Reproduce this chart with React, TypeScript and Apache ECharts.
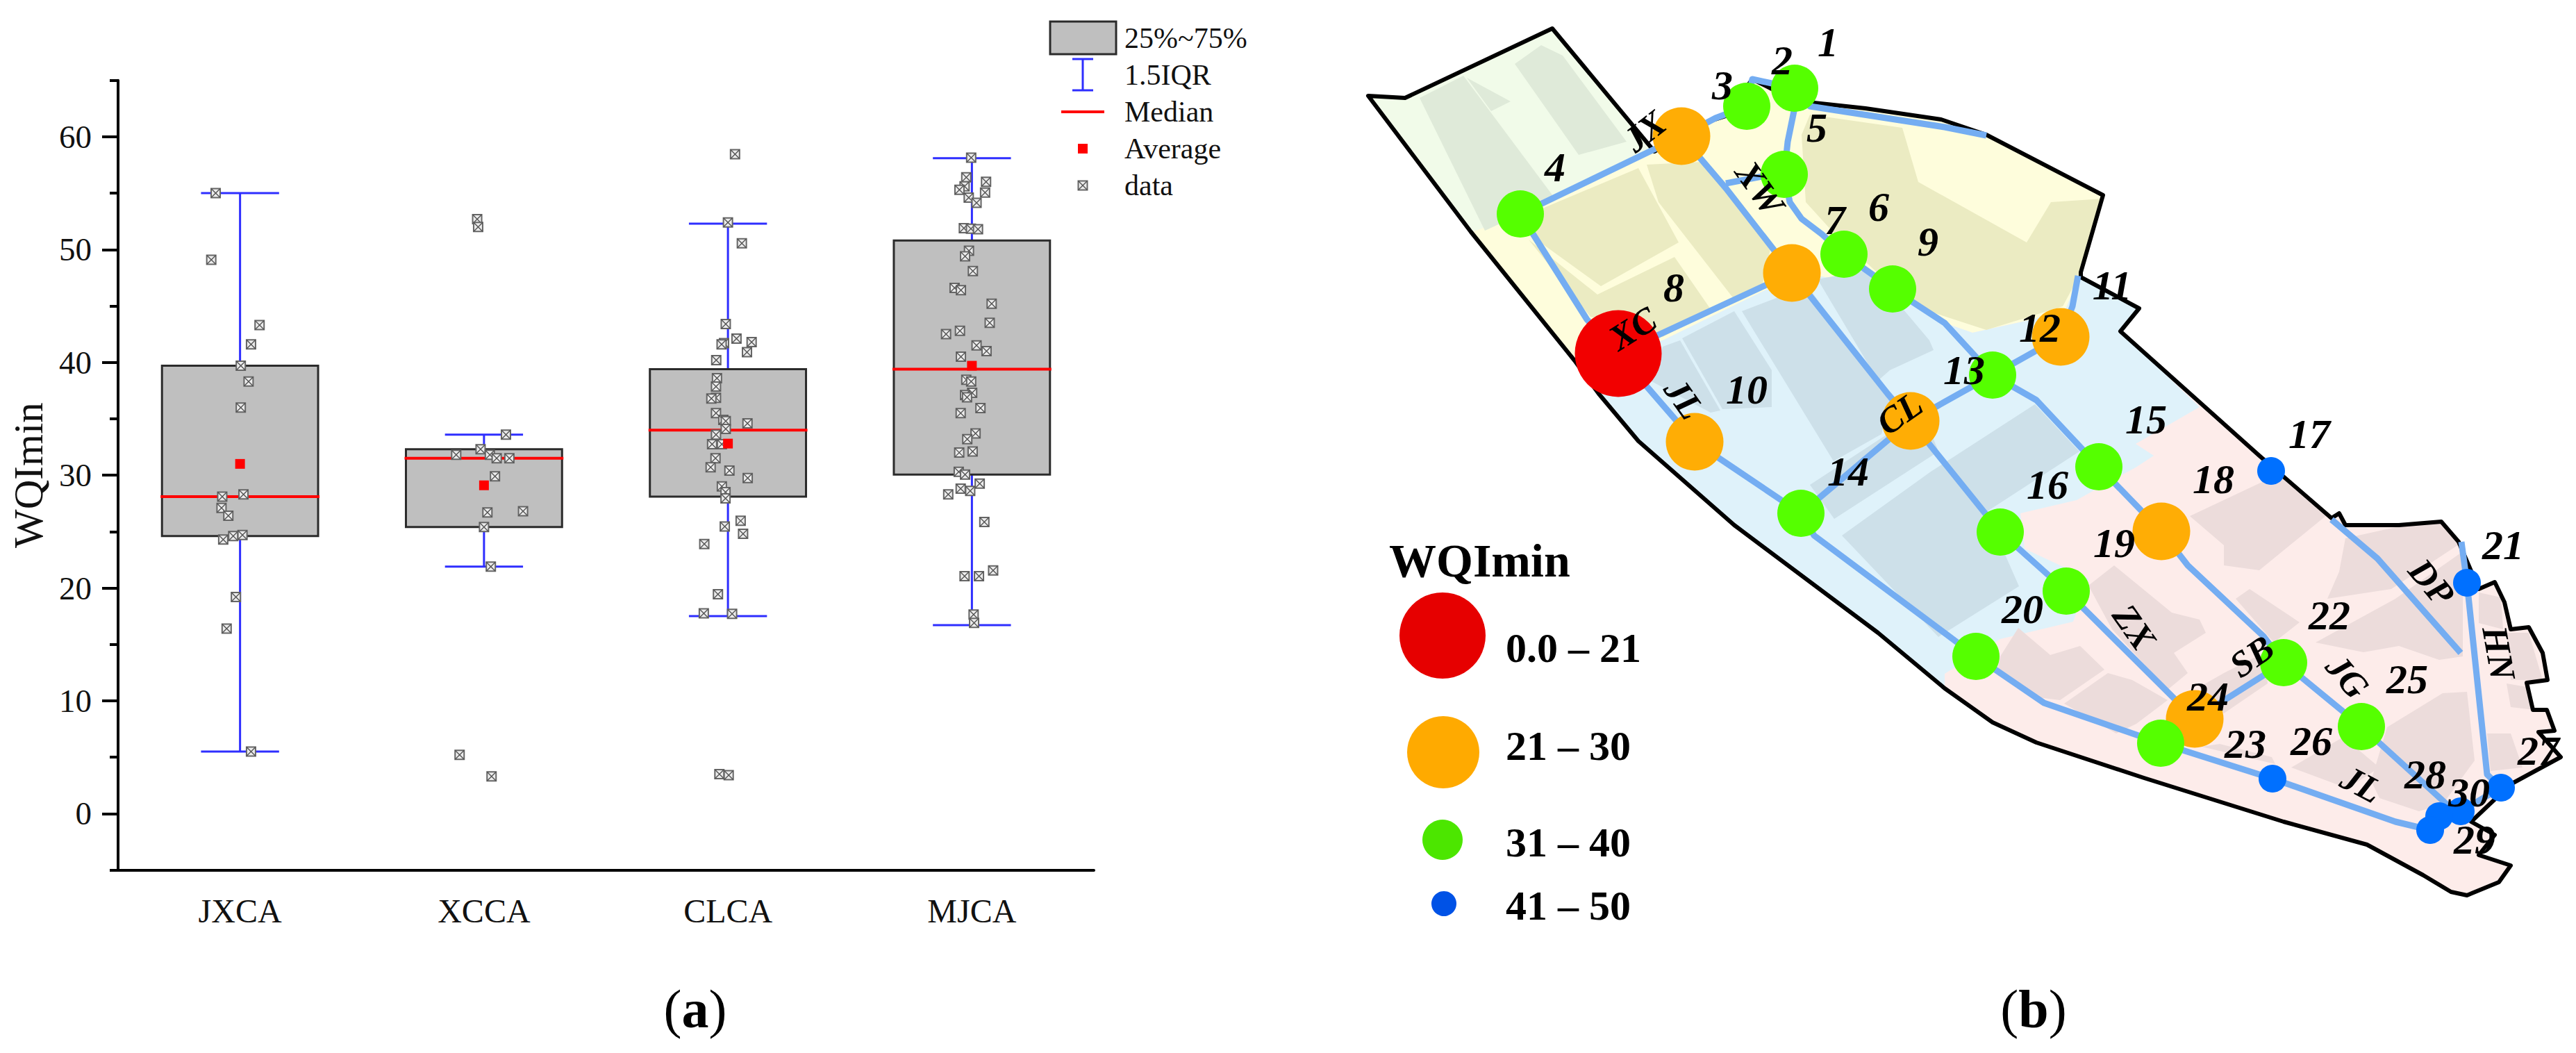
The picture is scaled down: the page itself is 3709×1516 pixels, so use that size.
import React, { useEffect, useRef } from "react";
import * as echarts from "echarts";

const SERIF = "'Liberation Serif', serif";

// ---------- panel (a) ----------
const categories = ["JXCA", "XCCA", "CLCA", "MJCA"];
const q1 = [24.6, 25.4, 28.1, 30.05];
const q3 = [39.7, 32.3, 39.4, 50.8];
const medians = [28.1, 31.5, 34.0, 39.4];
const whiskerLow = [5.5, 21.9, 17.5, 16.7];
const whiskerHigh = [55.0, 33.6, 52.3, 58.1];
const means = [31.0, 29.1, 32.8, 39.7];
const yLabelValues = [0, 10, 20, 30, 40, 50, 60];
const yMinorValues = [-5, 5, 15, 25, 35, 45, 55, 65];

// [horizontal jitter in category widths, WQImin]
const jxcaPoints = [[-.10, 55], [-.118, 49.1], [.08, 43.3], [.045, 41.6], [.003, 39.7], [.035, 38.3], [.003, 36], [.014, 28.3], [-.073, 28.1], [-.076, 27.1], [-.048, 26.4], [-.069, 24.3], [-.028, 24.6], [.01, 24.7], [-.017, 19.2], [-.055, 16.4], [.045, 5.5]];
const xccaPoints = [[-.028, 52.7], [-.024, 52], [.09, 33.6], [-.014, 32.3], [-.114, 31.8], [.024, 31.8], [.052, 31.5], [.104, 31.5], [.045, 29.9], [.014, 26.7], [.16, 26.8], [0, 25.4], [.028, 21.9], [-.10, 5.2], [.031, 3.3]];
const clcaPoints = [[.029, 58.45], [0, 52.4], [.057, 50.55], [-.009, 43.4], [.035, 42.1], [.097, 41.8], [-.016, 41.7], [-.026, 41.6], [.078, 40.9], [-.048, 40.2], [-.045, 38.6], [-.049, 37.85], [-.049, 36.85], [-.068, 36.8], [-.049, 35.5], [-.019, 34.9], [.08, 34.6], [-.009, 34.8], [-.009, 34.1], [-.049, 33.6], [-.065, 32.75], [-.025, 32.75], [-.051, 31.5], [-.071, 30.7], [.006, 30.4], [.081, 29.75], [-.025, 29], [-.01, 28.5], [-.01, 27.95], [.052, 25.95], [-.013, 25.45], [.062, 24.8], [-.097, 23.9], [-.041, 19.45], [-.099, 17.75], [.017, 17.7], [-.035, 3.5], [.003, 3.4]];
const mjcaPoints = [[-.003, 58.15], [-.023, 56.4], [.058, 56], [-.03, 55.6], [-.051, 55.3], [.054, 55.05], [-.013, 54.6], [.019, 54.15], [-.033, 51.9], [-.004, 51.85], [.025, 51.8], [-.012, 49.9], [-.028, 49.4], [.004, 48.1], [-.071, 46.6], [-.045, 46.4], [.081, 45.2], [.073, 43.5], [-.049, 42.8], [-.106, 42.5], [.019, 41.5], [.06, 41], [-.045, 40.5], [-.023, 38.45], [-.003, 38.3], [.001, 37.3], [-.028, 37.1], [-.02, 36.9], [.035, 35.95], [-.046, 35.5], [.015, 33.7], [-.019, 33.2], [-.052, 32], [.003, 32.1], [-.054, 30.3], [-.028, 30.05], [.032, 29.25], [-.046, 28.8], [-.007, 28.6], [-.097, 28.3], [.051, 25.85], [-.03, 21.05], [.029, 21.05], [.087, 21.55], [.007, 17.65], [.009, 16.9]];
const pointGroups = [jxcaPoints, xccaPoints, clcaPoints, mjcaPoints];

// ---------- panel (b): map coordinates ----------
const mapOutline = [[1970, 138], [2023, 141], [2235, 41], [2382, 218], [2460, 175], [2485, 167], [2523, 114], [2551, 128], [2612, 148], [2686, 156], [2795, 172], [2860, 194], [3028, 281], [2996, 392], [2996, 399], [3080, 444], [3053, 477], [3253, 656], [3357, 746], [3368, 739], [3377, 756], [3454, 756], [3515, 751], [3540, 780], [3569, 848], [3592, 838], [3606, 867], [3615, 906], [3641, 903], [3661, 940], [3668, 979], [3638, 983], [3647, 1022], [3667, 1022], [3678, 1052], [3655, 1054], [3687, 1090], [3615, 1129], [3558, 1183], [3592, 1202], [3569, 1231], [3615, 1246], [3598, 1270], [3552, 1289], [3529, 1284], [3489, 1260], [3408, 1216], [3288, 1183], [3087, 1120], [2932, 1069], [2869, 1040], [2800, 991], [2704, 911], [2497, 756], [2359, 635], [2302, 567], [2267, 519], [2118, 334]];
const zoneGreen = [[1970, 138], [2023, 141], [2235, 41], [2382, 218], [2422, 194], [2190, 308], [2120, 334]];
const zoneYellow = [[2120, 334], [2190, 308], [2422, 194], [2485, 167], [2523, 114], [2612, 148], [2795, 172], [2860, 194], [3028, 281], [2994, 398], [2975, 443], [2926, 460], [2840, 479], [2800, 465], [2727, 417], [2617, 397], [2543, 417], [2394, 490], [2320, 510], [2267, 519]];
const zoneBlue = [[2267, 519], [2320, 510], [2394, 490], [2543, 417], [2617, 397], [2727, 417], [2800, 465], [2840, 479], [2926, 460], [2975, 443], [2994, 395], [3080, 444], [3053, 477], [3167, 586], [3075, 639], [3101, 656], [3075, 673], [3047, 688], [2990, 720], [2909, 739], [2915, 790], [3007, 833], [2985, 895], [2880, 920], [2800, 970], [2800, 991], [2704, 911], [2497, 756], [2359, 635], [2302, 567]];
const greenPatches = [
  [[2044, 141], [2107, 109], [2239, 286], [2138, 332]],
  [[2112, 112], [2175, 146], [2147, 160]],
  [[2181, 92], [2219, 65], [2250, 80], [2342, 204], [2273, 223]],
];
const yellowPatches = [
  [[2204, 339], [2221, 300], [2359, 242], [2417, 349], [2305, 412]],
  [[2201, 345], [2300, 424], [2411, 370], [2465, 448], [2394, 485], [2290, 456]],
  [[2371, 237], [2451, 233], [2549, 359], [2537, 412], [2497, 431], [2388, 291]],
  [[2606, 165], [2739, 184], [2762, 262], [2918, 349], [2953, 291], [3028, 286], [2993, 398], [2970, 441], [2860, 475], [2756, 441], [2698, 388], [2640, 335], [2600, 291], [2594, 194]],
];
const bluePatches = [
  [[2394, 499], [2419, 490], [2477, 591], [2463, 594], [2376, 548]],
  [[2422, 487], [2497, 448], [2551, 533], [2551, 586], [2480, 589]],
  [[2508, 448], [2603, 412], [2721, 577], [2709, 625], [2640, 664]],
  [[2617, 402], [2692, 388], [2778, 490], [2784, 504], [2721, 533], [2704, 548]],
  [[2652, 771], [2780, 679], [2930, 582], [2994, 650], [2860, 737], [2907, 844], [2791, 917]],
  [[2606, 698], [2768, 592], [2791, 650], [2641, 747]],
];
const pinkPatches = [
  [[3153, 743], [3259, 693], [3288, 688], [3351, 741], [3253, 821], [3202, 814], [3202, 785]],
  [[3377, 775], [3454, 758], [3518, 753], [3543, 782], [3443, 848], [3351, 862], [3368, 823]],
  [[3219, 862], [3239, 848], [3311, 896], [3274, 925]],
  [[3334, 925], [3449, 862], [3546, 794], [3546, 945], [3512, 950], [3454, 930], [3403, 939]],
  [[3437, 1047], [3517, 998], [3552, 996], [3563, 1095], [3517, 1158], [3483, 1168], [3426, 1149], [3414, 1124]],
  [[3299, 1105], [3374, 1061], [3426, 1105], [3380, 1135]],
  [[3007, 843], [3044, 814], [3127, 882], [3167, 892], [3176, 911], [3130, 940], [3150, 969], [3121, 993], [3041, 906]],
  [[2880, 945], [2906, 904], [2952, 943], [2995, 930], [3030, 964], [2966, 1008], [2926, 1003], [2875, 969]],
  [[2972, 1013], [3035, 969], [3070, 979], [3121, 1008], [3076, 1042], [3047, 1056]],
  [[3167, 989], [3202, 969], [3259, 940], [3265, 984], [3202, 1027]],
  [[3196, 1071], [3271, 1090], [3276, 1100], [3170, 1075]],
  [[3569, 853], [3601, 860], [3604, 906], [3569, 897]],
  [[3609, 911], [3641, 911], [3661, 979], [3615, 979]],
  [[3581, 1056], [3615, 1056], [3632, 1105], [3586, 1110]],
  [[3609, 984], [3638, 989], [3650, 1022], [3615, 1018]],
];
const rivers = [
  [[2189, 308], [2421, 196], [2470, 170], [2515, 153], [2523, 114], [2584, 127], [2606, 153], [2800, 183], [2860, 195]],
  [[2584, 127], [2583, 160], [2574, 204], [2569, 251], [2577, 291], [2594, 315], [2623, 337], [2655, 366], [2725, 416], [2800, 465], [2869, 540], [2932, 576], [3022, 672], [3112, 765], [3150, 814], [3259, 916], [3288, 954], [3400, 1046], [3523, 1158], [3543, 1168]],
  [[2189, 308], [2285, 460], [2330, 509], [2440, 636], [2593, 739], [2612, 771], [2845, 945], [2943, 1012], [3111, 1070], [3272, 1121], [3449, 1183], [3499, 1195]],
  [[2421, 196], [2485, 271], [2580, 393], [2718, 567], [2751, 606], [2880, 766], [2975, 851], [3160, 1035]],
  [[2330, 509], [2580, 393]],
  [[2593, 739], [2751, 606], [2869, 540], [2967, 485], [2984, 441], [2992, 397]],
  [[2485, 264], [2537, 254], [2569, 251]],
  [[3160, 1035], [3288, 954]],
  [[3357, 748], [3423, 804], [3543, 940]],
  [[3544, 780], [3552, 839], [3581, 1115], [3601, 1134], [3543, 1168]],
];
const redNodes = [[2330, 509]];
const orangeNodes = [[2421, 196], [2580, 393], [2440, 636], [2751, 606], [2967, 485], [3112, 765], [3160, 1035]];
const greenNodes = [[2584, 127], [2515, 153], [2189, 308], [2569, 251], [2655, 366], [2725, 416], [2869, 540], [2593, 739], [3022, 672], [2880, 766], [2975, 851], [2845, 945], [3288, 954], [3111, 1070], [3400, 1046]];
const blueNodes = [[3270, 678], [3552, 839], [3272, 1121], [3601, 1134], [3543, 1168], [3512, 1175], [3499, 1195]];

// [text, x, y]
const siteLabels: [string, number, number][] = [
  ["1", 2632, 61], ["2", 2566, 87], ["3", 2480, 123], ["4", 2239, 241], ["5", 2616, 184], ["6", 2705, 298], ["7", 2642, 317], ["8", 2410, 414], ["9", 2776, 348], ["10", 2515, 561],
  ["11", 3041, 411], ["12", 2937, 472], ["13", 2828, 533], ["14", 2661, 679], ["15", 3090, 604], ["16", 2948, 698], ["17", 3325, 625], ["18", 3187, 690], ["19", 3044, 782], ["20", 2912, 877],
  ["21", 3604, 785], ["22", 3354, 886], ["23", 3233, 1071], ["24", 3179, 1003], ["25", 3466, 978], ["26", 3328, 1067], ["27", 3655, 1081], ["28", 3492, 1115], ["29", 3563, 1209], ["30", 3555, 1141],
];
// [text, x, y, rotation in degrees]
const roadLabels: [string, number, number, number][] = [
  ["JX", 2368, 189, 38], ["XW", 2534, 271, -55], ["XC", 2351, 473, 32], ["JL", 2425, 574, -55], ["CL", 2735, 595, 35],
  ["ZX", 3073, 903, -55], ["SB", 3242, 945, 35], ["JG", 3380, 974, -50], ["DP", 3501, 838, -50], ["HN", 3598, 940, -80], ["JL", 3400, 1129, -28],
];
const legendClasses: [string, string, number, number, number, number][] = [
  ["0.0 – 21", "#e60000", 2077, 915, 62, 933],
  ["21 – 30", "#ffaa00", 2078, 1083, 52, 1074],
  ["31 – 40", "#4ce600", 2077, 1209, 29, 1213],
  ["41 – 50", "#0052e6", 2079, 1301, 18, 1304],
];

const MAP_AXIS = { xAxisIndex: 2, yAxisIndex: 2 };

function polygonSeries(polys: number[][][], fill: string, z: number, stroke?: string, lineWidth = 0) {
  return {
    type: "custom",
    coordinateSystem: "cartesian2d",
    ...MAP_AXIS,
    z,
    clip: false,
    silent: true,
    data: polys.map((_, i) => [i, 0]),
    encode: { x: 0, y: 1 },
    renderItem: (params: any, api: any) => ({
      type: "polygon",
      shape: { points: polys[params.dataIndex].map((p) => api.coord(p)) },
      style: { fill, stroke: stroke || "none", lineWidth, lineJoin: "round" },
    }),
  };
}

function nodeSeries(points: number[][], color: string, size: number, z: number) {
  return {
    type: "scatter",
    ...MAP_AXIS,
    z,
    symbol: "circle",
    symbolSize: size,
    itemStyle: { color, opacity: 1 },
    clip: false,
    silent: true,
    data: points,
  };
}

function textSeries(items: any[], fontSize: number) {
  return {
    type: "custom",
    coordinateSystem: "cartesian2d",
    ...MAP_AXIS,
    z: 30,
    clip: false,
    silent: true,
    data: items.map((t) => [t[1], t[2]]),
    encode: { x: 0, y: 1 },
    renderItem: (params: any, api: any) => {
      const t = items[params.dataIndex];
      const [x, y] = api.coord([t[1], t[2]]);
      return {
        type: "text",
        x,
        y,
        rotation: ((t[3] || 0) * Math.PI) / 180,
        style: {
          text: t[0],
          fontFamily: SERIF,
          fontSize,
          fontStyle: "italic",
          fontWeight: "bold",
          fill: "#000",
          align: "center",
          verticalAlign: "middle",
        },
      };
    },
  };
}

function buildOption() {
  const boxData = categories.map((_, i) => [i, q1[i], q3[i], whiskerLow[i], whiskerHigh[i], medians[i]]);
  const scatterData = pointGroups.flatMap((g, i) => g.map((p) => [i + p[0], p[1]]));

  const boxSeries = {
    type: "custom",
    coordinateSystem: "cartesian2d",
    xAxisIndex: 1,
    yAxisIndex: 0,
    silent: true,
    data: boxData,
    encode: { x: 0, y: [1, 2, 3, 4, 5] },
    renderItem: (_: any, api: any) => {
      const x = api.value(0);
      const [cx, yq1] = api.coord([x, api.value(1)]);
      const yq3 = api.coord([x, api.value(2)])[1];
      const yLow = api.coord([x, api.value(3)])[1];
      const yHigh = api.coord([x, api.value(4)])[1];
      const yMed = api.coord([x, api.value(5)])[1];
      const band = api.size([1, 0])[0];
      const bw = band * 0.64;
      const cap = band * 0.32;
      const blue = { stroke: "#2e2eff", lineWidth: 3 };
      return {
        type: "group",
        children: [
          { type: "line", shape: { x1: cx, y1: yLow, x2: cx, y2: yHigh }, style: blue },
          { type: "line", shape: { x1: cx - cap / 2, y1: yLow, x2: cx + cap / 2, y2: yLow }, style: blue },
          { type: "line", shape: { x1: cx - cap / 2, y1: yHigh, x2: cx + cap / 2, y2: yHigh }, style: blue },
          { type: "rect", shape: { x: cx - bw / 2, y: yq3, width: bw, height: yq1 - yq3 }, style: { fill: "#bfbfbf", stroke: "#2b2b2b", lineWidth: 3 } },
          { type: "line", shape: { x1: cx - bw / 2 - 2, y1: yMed, x2: cx + bw / 2 + 2, y2: yMed }, style: { stroke: "#ff0000", lineWidth: 4 } },
        ],
      };
    },
  };

  const meanSeries = {
    type: "scatter",
    xAxisIndex: 1,
    yAxisIndex: 0,
    z: 4,
    symbol: "rect",
    symbolSize: 14,
    itemStyle: { color: "#ff0000", opacity: 1 },
    silent: true,
    data: means.map((m, i) => [i, m]),
  };

  const pointSeries = {
    type: "custom",
    coordinateSystem: "cartesian2d",
    xAxisIndex: 1,
    yAxisIndex: 0,
    z: 3,
    silent: true,
    data: scatterData,
    encode: { x: 0, y: 1 },
    renderItem: (_: any, api: any) => {
      const [cx, cy] = api.coord([api.value(0), api.value(1)]);
      return dataMarker(cx, cy);
    },
  };

  const legendX = 1559;
  const legendTextX = 1619;
  const legendTexts: [string, number][] = [["25%~75%", 55], ["1.5IQR", 108], ["Median", 161], ["Average", 214], ["data", 267]];
  const graphic: any[] = [
    { type: "rect", shape: { x: 1512, y: 31, width: 95, height: 47 }, style: { fill: "#bfbfbf", stroke: "#2b2b2b", lineWidth: 3 } },
    { type: "line", shape: { x1: legendX, y1: 85, x2: legendX, y2: 130 }, style: { stroke: "#2e2eff", lineWidth: 3 } },
    { type: "line", shape: { x1: legendX - 15, y1: 85, x2: legendX + 15, y2: 85 }, style: { stroke: "#2e2eff", lineWidth: 3 } },
    { type: "line", shape: { x1: legendX - 15, y1: 130, x2: legendX + 15, y2: 130 }, style: { stroke: "#2e2eff", lineWidth: 3 } },
    { type: "line", shape: { x1: 1528, y1: 161, x2: 1590, y2: 161 }, style: { stroke: "#ff0000", lineWidth: 4 } },
    { type: "rect", shape: { x: 1552, y: 207, width: 14, height: 14 }, style: { fill: "#ff0000" } },
    dataMarker(legendX, 267),
    ...legendTexts.map(([text, y]) => ({
      type: "text",
      x: legendTextX,
      y,
      style: { text, fontFamily: SERIF, fontSize: 42, fill: "#111", align: "left", verticalAlign: "middle" },
    })),
    {
      type: "text",
      x: 2000,
      y: 807,
      style: { text: "WQImin", fontFamily: SERIF, fontSize: 68, fontWeight: "bold", fill: "#000", align: "left", verticalAlign: "middle" },
    },
    ...legendClasses.flatMap(([text, color, cx, cy, r, ty]) => [
      { type: "circle", shape: { cx, cy, r }, style: { fill: color } },
      {
        type: "text",
        x: 2168,
        y: ty,
        style: { text, fontFamily: SERIF, fontSize: 60, fontWeight: "bold", fill: "#000", align: "left", verticalAlign: "middle" },
      },
    ]),
    ...[["a", 1001], ["b", 2928]].map(([letter, x]) => ({
      type: "text",
      x,
      y: 1452,
      style: {
        text: `{p|(}{l|${letter}}{p|)}`,
        align: "center",
        verticalAlign: "middle",
        rich: {
          p: { fontFamily: SERIF, fontSize: 78, fill: "#000" },
          l: { fontFamily: SERIF, fontSize: 78, fontWeight: "bold", fill: "#000" },
        },
      },
    })),
  ];

  return {
    animation: false,
    backgroundColor: "#ffffff",
    grid: [
      { left: 170, top: 115.7, width: 1405, height: 1136.8, containLabel: false },
      { left: 0, top: 0, width: 3709, height: 1516, containLabel: false },
    ],
    xAxis: [
      {
        type: "category",
        gridIndex: 0,
        position: "bottom",
        data: categories,
        axisLine: { onZero: false, lineStyle: { color: "#000", width: 4 } },
        axisTick: { alignWithLabel: true, length: 22, lineStyle: { color: "#000", width: 3 } },
        axisLabel: { fontFamily: SERIF, fontSize: 48, color: "#111", margin: 35 },
        splitLine: { show: false },
      },
      { type: "value", gridIndex: 0, min: -0.5, max: 3.5, show: false },
      { type: "value", gridIndex: 1, min: 0, max: 3709, show: false },
    ],
    yAxis: [
      {
        type: "value",
        gridIndex: 0,
        position: "left",
        min: -5,
        max: 65,
        name: "WQImin",
        nameLocation: "middle",
        nameRotate: 90,
        nameGap: 100,
        nameTextStyle: { fontFamily: SERIF, fontSize: 59, color: "#111" },
        axisLine: { onZero: false, lineStyle: { color: "#000", width: 4 } },
        axisTick: { show: true, customValues: yLabelValues, length: 23, lineStyle: { color: "#000", width: 4 } },
        axisLabel: { customValues: yLabelValues, fontFamily: SERIF, fontSize: 47, color: "#111", margin: 38 },
        splitLine: { show: false },
      },
      {
        type: "value",
        gridIndex: 0,
        position: "left",
        min: -5,
        max: 65,
        axisLine: { show: false, onZero: false },
        axisTick: { show: true, customValues: yMinorValues, length: 12, lineStyle: { color: "#000", width: 4 } },
        axisLabel: { show: false },
        splitLine: { show: false },
      },
      { type: "value", gridIndex: 1, min: 0, max: 1516, inverse: true, show: false },
    ],
    series: [
      boxSeries,
      pointSeries,
      meanSeries,
      polygonSeries([mapOutline], "#fdecea", 5),
      polygonSeries([zoneGreen], "#f1fbe9", 6),
      polygonSeries([zoneYellow], "#fefddc", 6),
      polygonSeries([zoneBlue], "#dff2fa", 6),
      polygonSeries(greenPatches, "#dfead9", 7),
      polygonSeries(yellowPatches, "#ebebc2", 7),
      polygonSeries(bluePatches, "#cde0e9", 7),
      polygonSeries(pinkPatches, "#ecdcdb", 7),
      polygonSeries([mapOutline], "none", 8, "#000", 6),
      ...rivers.map((r) => ({
        type: "line",
        ...MAP_AXIS,
        z: 9,
        data: r,
        showSymbol: false,
        clip: false,
        silent: true,
        lineStyle: { color: "#74adf2", width: 9, join: "round" },
      })),
      nodeSeries(orangeNodes, "#ffad05", 83, 10),
      nodeSeries(greenNodes, "#55ff00", 68, 11),
      nodeSeries(redNodes, "#f20000", 125, 12),
      nodeSeries(blueNodes, "#0070ff", 40, 13),
      textSeries(siteLabels, 60),
      textSeries(roadLabels, 52),
    ],
    graphic,
  };
}

function dataMarker(cx: number, cy: number) {
  const s = 6.5;
  const line = { stroke: "#555", lineWidth: 1.4 };
  return {
    type: "group",
    children: [
      { type: "rect", shape: { x: cx - s, y: cy - s, width: 2 * s, height: 2 * s }, style: { fill: "#ececec", stroke: "#666", lineWidth: 2 } },
      { type: "line", shape: { x1: cx - s, y1: cy - s, x2: cx + s, y2: cy + s }, style: line },
      { type: "line", shape: { x1: cx - s, y1: cy + s, x2: cx + s, y2: cy - s }, style: line },
    ],
  };
}

export default function App() {
  const ref = useRef<HTMLDivElement>(null);
  useEffect(() => {
    document.body.style.margin = "0";
    const chart = echarts.init(ref.current!, undefined, { renderer: "svg", width: 3709, height: 1516 });
    chart.setOption(buildOption() as any);
    return () => chart.dispose();
  }, []);
  return <div ref={ref} style={{ position: "absolute", left: 0, top: 0, width: 3709, height: 1516, overflow: "hidden" }} />;
}
